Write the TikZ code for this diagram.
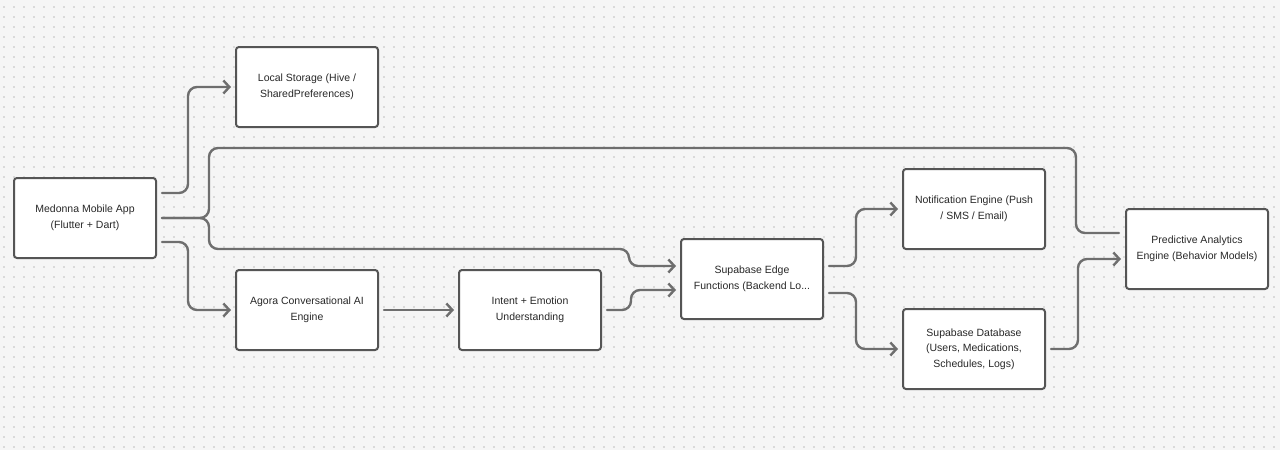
\documentclass[tikz,border=0pt]{standalone}
\usepackage{fontspec}
\setmainfont{Liberation Sans}
\usepackage{xcolor}
\usepackage{tikz}
\usetikzlibrary{arrows.meta}

\definecolor{canvas}{RGB}{245,245,245}
\definecolor{griddot}{RGB}{190,190,190}
\definecolor{wire}{RGB}{110,110,110}
\definecolor{boxline}{RGB}{85,85,85}
\definecolor{boxtext}{RGB}{40,40,40}

\tikzset{
  block/.style={draw=boxline, line width=2pt, fill=white, rounded corners=3pt,
    minimum width=142pt, minimum height=80pt, inner sep=0pt, align=center,
    text=boxtext, font=\fontsize{10.5}{15.5}\selectfont},
  link/.style={draw=wire, line width=2.4pt, line cap=round, rounded corners=9pt,
    shorten <=5pt, shorten >=4pt,
    -{Straight Barb[length=6pt, width=13pt, line width=2.4pt]}},
  plainlink/.style={draw=wire, line width=2.4pt, line cap=round, rounded corners=9pt,
    shorten <=5pt, shorten >=6pt}
}

\begin{document}
\begin{tikzpicture}[x=1pt,y=-1pt]
%background and dot grid
\useasboundingbox [fill=canvas] (0,0) rectangle (1280,450);
\foreach \gx in {4,14,...,1274}
  \foreach \gy in {7,17,...,447}
    \fill [griddot] (\gx,\gy) circle (0.8);

%Boxes
\node [block] (app) at (85,218) {Medonna Mobile App\\(Flutter + Dart)};
\node [block] (local) at (307,87) {Local Storage (Hive /\\SharedPreferences)};
\node [block] (agora) at (307,310) {Agora Conversational AI\\Engine};
\node [block] (intent) at (530,310) {Intent + Emotion\\Understanding};
\node [block] (edge) at (752,279) {Supabase Edge\\Functions (Backend Lo...};
\node [block] (notif) at (974,209) {Notification Engine (Push\\/ SMS / Email)};
\node [block] (db) at (974,349) {Supabase Database\\(Users, Medications,\\Schedules, Logs)};
\node [block] (pred) at (1197,249) {Predictive Analytics\\Engine (Behavior Models)};

%Connectors from the app
\draw [link] ([yshift=25pt]app.east) -- ++(31,0) |- (local.west);
\draw [link] ([yshift=-24pt]app.east) -- ++(31,0) |- (agora.west);
\draw [plainlink] (app.east) -- ++(52,0) -- ++(0,-70) -| ([xshift=-49pt,yshift=16pt]pred.west) -- ([yshift=16pt]pred.west);
\draw [link] (app.east) -- ++(52,0) -- ++(0,31) -| ([xshift=-51pt,yshift=13pt]edge.west) -- ([yshift=13pt]edge.west);

%Middle chain
\draw [link] (agora) -- (intent);
\draw [link] (intent.east) -- ++(29,0) |- ([yshift=-11pt]edge.west);
\draw [link] ([yshift=13pt]edge.east) -- ++(32,0) |- (notif.west);
\draw [link] ([yshift=-14pt]edge.east) -- ++(32,0) |- (db.west);
\draw [link] (db.east) -- ++(32,0) |- ([yshift=-10pt]pred.west);
\end{tikzpicture}
\end{document}
